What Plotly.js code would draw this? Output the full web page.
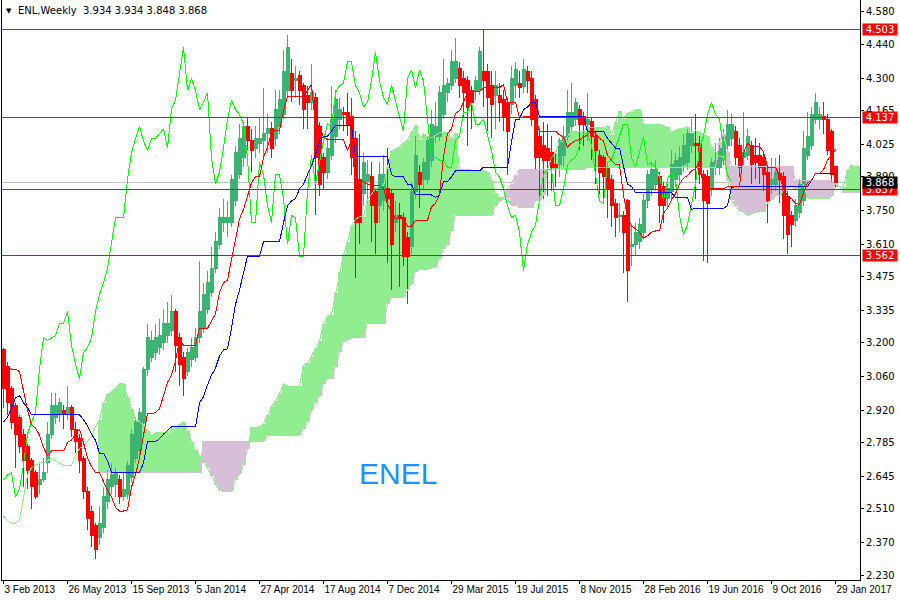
<!DOCTYPE html>
<html><head><meta charset="utf-8">
<script src="https://cdn.plot.ly/plotly-3.0.1.min.js"></script>
<style>html,body{margin:0;padding:0;background:#fff}#chart{width:900px;height:600px}
#chart svg path{shape-rendering:crispEdges}</style>
</head><body><div id="chart"></div>
<script>
// Weekly bars, 3 Feb 2013 (bar 0) ... 29 Jan 2017 (bar 208)
const opens = [
3.17,3.10,3.01,2.94,2.89,2.82,2.77,2.71,2.66,2.61,
2.63,2.70,2.82,2.89,2.90,2.92,2.90,2.93,2.84,2.80,
2.72,2.58,2.50,2.44,2.39,2.43,2.54,2.60,2.61,2.63,
2.56,2.57,2.64,2.72,2.75,2.87,3.09,3.14,3.16,3.18,
3.20,3.23,3.25,3.33,3.22,3.14,3.08,3.13,3.14,3.22,
3.26,3.34,3.41,3.51,3.61,3.70,3.70,3.70,3.79,3.90,
3.97,4.10,4.04,4.01,4.03,4.04,4.07,4.09,4.05,4.10,
4.15,4.25,4.32,4.29,4.31,4.27,4.23,4.20,4.22,4.10,
3.97,3.91,3.98,4.06,4.13,4.16,4.16,4.14,4.05,3.88,
3.82,3.87,3.89,3.83,3.77,3.79,3.84,3.82,3.70,3.73,
3.72,3.64,3.60,3.83,3.91,3.88,3.88,3.96,4.06,4.06,
4.15,4.24,4.27,4.30,4.34,4.30,4.29,4.25,4.25,4.25,
4.33,4.33,4.27,4.23,4.23,4.21,4.20,4.19,4.27,4.28,
4.265,4.33,4.30,4.21,4.06,4.02,4.01,3.99,3.94,3.94,
3.98,4.06,4.10,4.13,4.17,4.14,4.11,4.12,4.06,3.98,
3.97,3.93,3.88,3.78,3.725,3.73,3.79,3.60,3.61,3.62,
3.66,3.79,3.84,3.86,3.89,3.85,3.80,3.83,3.88,3.90,
3.94,3.95,4.02,4.03,4.03,3.90,3.89,3.84,3.93,3.93,
3.96,4.02,4.05,4.08,4.02,3.97,3.98,4.02,3.98,3.98,
3.97,3.91,3.86,3.86,3.905,3.89,3.81,3.73,3.71,3.74,
3.79,3.98,4.02,4.13,4.13,4.14,4.13,4.08,3.934];
const highs = [
3.18,3.12,3.02,2.95,2.90,2.84,2.78,2.72,2.67,2.70,
2.72,2.87,2.99,2.99,2.97,2.94,3.02,2.94,2.87,2.82,
2.73,2.60,2.52,2.45,2.52,2.60,2.67,2.70,2.68,2.65,
2.66,2.71,2.84,2.89,2.93,3.10,3.28,3.25,3.28,3.30,
3.34,3.37,3.40,3.34,3.24,3.16,3.18,3.22,3.26,3.54,
3.45,3.50,3.60,3.66,3.76,3.80,3.79,3.90,4.02,4.11,
4.12,4.14,4.09,4.10,4.14,4.26,4.15,4.12,4.25,4.25,
4.42,4.48,4.38,4.35,4.33,4.28,4.27,4.36,4.24,4.12,
3.99,4.05,4.27,4.25,4.22,4.18,4.24,4.22,4.08,4.07,
3.99,3.96,3.95,3.85,3.95,3.98,4.01,3.84,3.79,3.78,
3.74,3.66,3.87,4.06,3.94,3.97,4.06,4.17,4.20,4.27,
4.38,4.30,4.42,4.47,4.37,4.33,4.31,4.27,4.31,4.43,
4.50,4.36,4.33,4.33,4.28,4.25,4.22,4.35,4.37,4.33,
4.38,4.35,4.33,4.23,4.08,4.12,4.11,4.06,3.99,4.05,
4.10,4.25,4.28,4.22,4.19,4.16,4.24,4.14,4.08,4.00,
3.98,3.95,3.90,3.80,3.78,3.75,3.80,3.69,3.70,3.72,
3.82,3.92,3.95,3.96,3.91,3.87,3.86,4.00,3.99,4.02,
4.07,4.09,4.13,4.15,4.06,3.92,3.92,3.97,4.03,4.05,
4.09,4.17,4.15,4.10,4.05,4.16,4.09,4.04,4.05,4.03,
3.99,3.93,3.97,3.97,3.98,3.91,3.83,3.75,3.80,3.88,
4.08,4.16,4.18,4.24,4.18,4.20,4.15,4.09,3.934];
const lows = [
2.93,2.90,2.84,2.68,2.74,2.60,2.59,2.51,2.55,2.57,
2.62,2.66,2.80,2.86,2.87,2.84,2.88,2.81,2.74,2.66,
2.55,2.42,2.35,2.30,2.36,2.41,2.51,2.57,2.56,2.53,
2.54,2.55,2.62,2.70,2.73,2.85,3.06,3.12,3.13,3.15,
3.17,3.20,3.23,3.08,3.02,2.98,3.06,3.10,3.12,3.20,
3.24,3.32,3.39,3.49,3.59,3.66,3.64,3.68,3.77,3.88,
3.93,4.00,3.91,3.97,3.99,3.97,3.99,3.97,4.02,4.07,
4.13,4.22,4.20,4.22,4.19,4.09,4.09,4.17,3.73,3.81,
3.84,3.88,3.96,4.03,4.09,4.08,4.06,3.90,3.47,3.61,
3.77,3.78,3.62,3.57,3.70,3.75,3.53,3.42,3.66,3.43,
3.52,3.36,3.57,3.80,3.76,3.84,3.86,3.93,4.03,4.04,
4.13,4.20,4.25,4.28,4.22,4.14,4.02,4.09,4.21,4.23,
4.18,4.08,4.05,4.09,4.12,4.08,3.90,4.15,4.22,4.22,
4.24,4.24,4.10,3.92,3.78,3.80,3.81,3.83,3.85,3.89,
3.93,4.04,4.08,4.10,4.00,4.02,4.04,3.96,3.86,3.82,
3.80,3.72,3.68,3.64,3.66,3.49,3.37,3.52,3.56,3.59,
3.64,3.76,3.81,3.83,3.70,3.70,3.76,3.80,3.85,3.87,
3.91,3.92,3.99,3.80,3.86,3.54,3.53,3.81,3.90,3.90,
3.94,3.99,4.02,3.94,3.89,3.94,3.96,3.86,3.88,3.86,
3.83,3.70,3.82,3.83,3.78,3.63,3.57,3.60,3.68,3.72,
3.77,3.96,4.00,4.11,4.09,4.07,3.98,3.87,3.848];
const closes = [
3.01,2.95,2.87,2.82,2.77,2.71,2.67,2.60,2.56,2.63,
2.66,2.82,2.94,2.94,2.95,2.90,2.93,2.84,2.79,2.71,
2.58,2.47,2.40,2.34,2.45,2.56,2.63,2.65,2.66,2.56,
2.59,2.69,2.82,2.87,2.91,3.09,3.22,3.21,3.22,3.23,
3.28,3.28,3.33,3.19,3.11,3.05,3.16,3.18,3.22,3.33,
3.40,3.45,3.51,3.62,3.72,3.72,3.72,3.88,3.99,4.05,
4.10,4.04,4.00,4.05,4.05,4.07,4.09,4.01,4.17,4.21,
4.33,4.43,4.25,4.30,4.25,4.17,4.20,4.24,3.97,3.86,
3.91,4.01,4.13,4.21,4.17,4.15,4.11,3.97,3.70,3.70,
3.95,3.90,3.77,3.70,3.90,3.90,3.80,3.61,3.73,3.72,
3.56,3.56,3.83,3.98,3.86,3.95,4.04,4.11,4.10,4.24,
4.27,4.28,4.37,4.37,4.27,4.24,4.18,4.20,4.29,4.41,
4.29,4.22,4.19,4.27,4.20,4.14,4.08,4.30,4.335,4.26,
4.335,4.29,4.13,3.97,3.97,3.96,3.96,3.93,3.93,4.04,
4.06,4.16,4.16,4.20,4.11,4.11,4.13,4.06,4.00,3.91,
3.89,3.84,3.77,3.72,3.731,3.66,3.50,3.61,3.66,3.69,
3.79,3.90,3.92,3.92,3.77,3.77,3.84,3.94,3.96,3.97,
4.02,4.07,4.07,4.02,3.90,3.79,3.78,3.95,3.96,4.01,
4.06,4.11,4.11,3.97,3.93,3.99,4.06,3.94,3.95,3.93,
3.90,3.79,3.88,3.91,3.88,3.73,3.65,3.69,3.77,3.86,
4.01,4.06,4.15,4.20,4.15,4.13,4.00,3.90,3.868];

const tenkanStart = [3.10,3.10,3.09,3.09,3.08,3.00,2.92,2.86];            // bars 0-7
const kijunStart  = [2.87,2.89,2.93,2.97,2.98,2.95,2.93,2.90,2.90,2.90,2.90,2.90,2.90,
                     2.90,2.90,2.90,2.90,2.90,2.90,2.90,2.88,2.855,2.82,2.795,2.74]; // bars 0-24
const spanAStart  = [2.48,2.46,2.45,2.45,2.46,2.56,2.65,2.68,2.69,2.70,2.70,2.71,2.72,
                     2.71,2.70,2.69,2.69,2.69,2.73,2.76,2.77,2.79,2.81,2.85,2.88,2.95]; // bars 0-25
const spanBStart  = [2.66,2.66,2.66,2.66,2.66,2.66,2.66,2.66,2.66,2.66,2.66,2.66,2.66,
                     2.66,2.66,2.66,2.66,2.66,2.66,2.66,2.66,2.66,2.66,2.66,2.66,2.66,
                     2.79,2.79,2.79,2.79,2.79,2.79,2.79,2.79,2.79,2.79,2.79,2.79,2.79,2.79,2.79,2.79,
                     2.815,2.815,2.815,2.815,2.815,2.815,2.815,2.815,2.815,2.84,2.87]; // bars 24-76

const tickBars = [0,16,32,48,64,80,96,112,128,144,160,176,192,208];
const tickLabels = ["3 Feb 2013","26 May 2013","15 Sep 2013","5 Jan 2014","27 Apr 2014","17 Aug 2014",
  "7 Dec 2014","29 Mar 2015","19 Jul 2015","8 Nov 2015","28 Feb 2016","19 Jun 2016","9 Oct 2016","29 Jan 2017"];
const priceTicks = [4.580,4.440,4.300,4.165,4.025,3.890,3.750,3.610,3.475,3.335,3.200,3.060,2.920,2.785,2.645,2.510,2.370,2.230];
const levels = [4.503,4.137,3.837,3.562];
const bidPrice = 3.868;
const header = "ENL,Weekly  3.934 3.934 3.848 3.868";

// ---- Ichimoku (9, 26, 52) from the bars ----
const n = closes.length;
const idx = Array.from({length:n},(_,i)=>i);
function hh(a,b){let m=-Infinity;for(let k=a;k<=b;k++)m=Math.max(m,highs[k]);return m;}
function ll(a,b){let m=Infinity;for(let k=a;k<=b;k++)m=Math.min(m,lows[k]);return m;}
const tenkan = idx.map(i=> i>=8 ? (hh(i-8,i)+ll(i-8,i))/2 : tenkanStart[i]);
const kijun  = idx.map(i=> i>=25 ? (hh(i-25,i)+ll(i-25,i))/2 : kijunStart[i]);
const lastX = n-1+6;
const sx=[], sA=[], sB=[];
for(let j=0;j<=lastX;j++){
  sx.push(j);
  sA.push(j>=26 ? (tenkan[j-26]+kijun[j-26])/2 : spanAStart[j]);
  sB.push(j>=77 ? (hh(j-77,j-26)+ll(j-77,j-26))/2 : (j>=24 ? spanBStart[j-24] : null));
}
const cX=[], cBase=[], cH=[], cCol=[];
sx.forEach((j,k)=>{ if(sB[k]===null) return;
  cX.push(j); cBase.push(Math.min(sA[k],sB[k])); cH.push(Math.abs(sA[k]-sB[k]));
  cCol.push(sA[k]>=sB[k] ? '#90EE90' : '#D8BFD8'); });
const chX=[], chY=[];
for(let i=26;i<n;i++){chX.push(i-26); chY.push(closes[i]);}

const traces = [
  {type:'bar', x:cX, y:cH, base:cBase, width:1, marker:{color:cCol, line:{width:0}}, hoverinfo:'skip'},
  {type:'scatter', mode:'lines', x:sx, y:sA, line:{color:'#90EE90', width:1}, hoverinfo:'skip'},
  {type:'scatter', mode:'lines', x:sx, y:sB, line:{color:'#D8BFD8', width:1}, hoverinfo:'skip', connectgaps:false},
  {type:'scatter', mode:'lines', x:chX, y:chY, line:{color:'#00FF00', width:1}, hoverinfo:'skip'},
  {type:'scatter', mode:'lines', x:idx, y:kijun, line:{color:'#0000FF', width:1}, hoverinfo:'skip'},
  {type:'scatter', mode:'lines', x:idx, y:tenkan, line:{color:'#FF0000', width:1}, hoverinfo:'skip'},
  {type:'candlestick', x:idx, open:opens, high:highs, low:lows, close:closes, whiskerwidth:0,
   increasing:{line:{color:'#3CB371', width:1}, fillcolor:'#3CB371'},
   decreasing:{line:{color:'#FF0000', width:1}, fillcolor:'#FF0000'}, hoverinfo:'skip'}
];

const shapes = [{type:'line', xref:'paper', x0:0, x1:1, yref:'y', y0:bidPrice, y1:bidPrice, line:{color:'#C0C0C0', width:1}, layer:'below'}];
levels.forEach(v=>shapes.push({type:'line', xref:'paper', x0:0, x1:1, yref:'y', y0:v, y1:v, line:{color:'#FF0000', width:1}, layer:'above'}));

const px = p => (p-2)/858, py = p => 1 - p/580;
const annotations = [
  {xref:'paper', yref:'paper', x:px(4), y:py(11), xanchor:'left', yanchor:'middle', text:'▼', showarrow:false, font:{size:7, color:'#000'}},
  {xref:'paper', yref:'paper', x:px(16), y:py(11), xanchor:'left', yanchor:'middle', text:header, showarrow:false, font:{size:10, color:'#000'}},
  {xref:'paper', yref:'paper', x:px(398), y:py(473), xanchor:'center', yanchor:'middle', text:'ENEL', showarrow:false, font:{family:'Liberation Sans, Arial, sans-serif', size:30, color:'#1E90FF'}}
];
levels.forEach(v=>annotations.push({xref:'paper', yref:'y', x:px(862), y:v, xanchor:'left', yanchor:'middle', text:v.toFixed(3), showarrow:false, bgcolor:'#FF0000', font:{size:10, color:'#FFFFFF'}, width:34, height:11, borderpad:0}));
annotations.push({xref:'paper', yref:'y', x:px(862), y:bidPrice, xanchor:'left', yanchor:'middle', text:bidPrice.toFixed(3), showarrow:false, bgcolor:'#000000', font:{size:10, color:'#FFFFFF'}, width:34, height:11, borderpad:0});

const layout = {
  width:900, height:600, margin:{l:2, r:40, t:0, b:20, pad:0},
  paper_bgcolor:'#FFFFFF', plot_bgcolor:'#FFFFFF', showlegend:false,
  font:{family:'DejaVu Sans, sans-serif', size:10, color:'#000'},
  boxgap:0.25, boxgroupgap:0, bargap:0, hovermode:false,
  xaxis:{range:[-0.375,214.125], tickmode:'array', tickvals:tickBars, ticktext:tickLabels, tickangle:0,
    tickfont:{family:'Liberation Sans, Arial, sans-serif', size:10, color:'#000'},
    ticks:'outside', ticklen:3, tickcolor:'#000', showline:true, linecolor:'#000', linewidth:1,
    showgrid:false, zeroline:false, rangeslider:{visible:false}, ticklabelposition:'outside right', fixedrange:true},
  yaxis:{side:'right', range:[2.213,4.626], tickmode:'array', tickvals:priceTicks, ticktext:priceTicks.map(v=>v.toFixed(3)),
    ticks:'outside', ticklen:3, tickcolor:'#000', showline:true, mirror:true, linecolor:'#000', linewidth:1,
    showgrid:false, zeroline:false, fixedrange:true},
  shapes:shapes, annotations:annotations
};
Plotly.newPlot('chart', traces, layout, {staticPlot:true, displayModeBar:false});
</script></body></html>
